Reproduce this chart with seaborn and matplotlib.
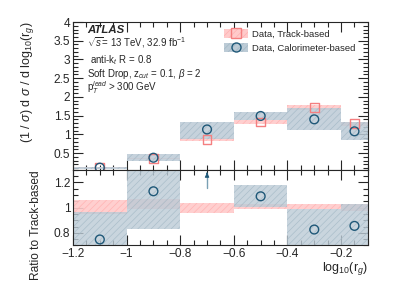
import numpy as np
import pandas as pd
import seaborn as sns
import matplotlib.pyplot as plt
from matplotlib.patches import Patch
from matplotlib.lines import Line2D
from matplotlib.ticker import MultipleLocator

# binning in log10(r_g)
edges = [-1.2, -1.0, -0.8, -0.6, -0.4, -0.2, -0.1]
centers = [-1.1, -0.9, -0.7, -0.5, -0.3, -0.15]

# normalised cross-section
track_val = [0.11, 0.35, 0.86, 1.33, 1.71, 1.28]
track_lo = [0.09, 0.33, 0.81, 1.28, 1.64, 1.22]
track_hi = [0.13, 0.37, 0.91, 1.38, 1.77, 1.33]
calo_val = [0.11, 0.375, 1.13, 1.49, 1.40, 1.08]
calo_lo = [0.08, 0.28, 0.88, 1.38, 1.11, 0.84]
calo_hi = [0.14, 0.48, 1.34, 1.59, 1.70, 1.32]

# ratio to track-based
ratio_track_lo = [0.95, 0.99, 0.955, 0.99, 0.99, 0.975]
ratio_track_hi = [1.06, 1.065, 1.04, 1.03, 1.03, 1.026]
ratio_calo_val = [0.747, 1.13, 1.45, 1.09, 0.826, 0.855]
ratio_calo_lo = [0.60, 0.83, 1.35, 1.005, 0.60, 0.60]
ratio_calo_hi = [0.965, 1.40, 1.60, 1.18, 0.987, 1.026]

sns.set_style("ticks")
plt.rcParams['font.family'] = ['Liberation Sans', 'DejaVu Sans']
plt.rcParams['mathtext.fontset'] = 'custom'
plt.rcParams['mathtext.rm'] = 'Liberation Sans'
plt.rcParams['mathtext.it'] = 'Liberation Sans:italic'
plt.rcParams['hatch.linewidth'] = 0.5

pink_face, pink_hatch, pink_mk = '#ffcaca', '#ffb0b0', '#f47f80'
blue_face, blue_hatch, blue_mk = '#bccbd6', '#a3b8c6', '#1f5878'

fig = plt.figure(figsize=(3.99, 2.86), dpi=100)
ax = fig.add_axes([0.183, 0.406, 0.739, 0.517])
rx = fig.add_axes([0.183, 0.142, 0.739, 0.264], sharex=ax)

widths = np.diff(edges)
left = np.array(edges[:-1])


def bands(a, lo, hi, face, hatch_col, alpha):
    lo = np.array(lo)
    hi = np.array(hi)
    a.bar(left, hi - lo, bottom=lo, width=widths, align='edge', color=face,
          edgecolor=hatch_col, hatch='/////', linewidth=0, alpha=alpha, zorder=1)


df = pd.DataFrame({'x': centers, 'track': track_val, 'calo': calo_val,
                   'ratio': ratio_calo_val})

bands(ax, track_lo, track_hi, pink_face, pink_hatch, 0.9)
bands(ax, calo_lo, calo_hi, blue_face, blue_hatch, 0.85)
sns.scatterplot(data=df, x='x', y='track', ax=ax, marker='s', s=40,
                facecolor='none', edgecolor=pink_mk, linewidth=1.0, zorder=3)
sns.scatterplot(data=df, x='x', y='calo', ax=ax, marker='o', s=40,
                facecolor='none', edgecolor=blue_mk, linewidth=1.0, zorder=4)

bands(rx, ratio_track_lo, ratio_track_hi, pink_face, pink_hatch, 0.9)
bands(rx, ratio_calo_lo, ratio_calo_hi, blue_face, blue_hatch, 0.8)
inrange = df[df['ratio'] < 1.3]
sns.scatterplot(data=inrange, x='x', y='ratio', ax=rx, marker='o', s=40,
                facecolor='none', edgecolor=blue_mk, linewidth=1.0, zorder=4)
# off-scale point
rx.plot([-0.7, -0.7], [1.16, 1.27], color='#7aa0b4', lw=1.0, zorder=4)
rx.annotate('', xy=(-0.7, 1.30), xytext=(-0.7, 1.25),
            arrowprops=dict(arrowstyle='-|>', color=blue_mk, lw=0.8,
                            mutation_scale=6, fc=blue_mk, ec=blue_mk),
            zorder=5)

ax.set_xlim(-1.2, -0.1)
ax.set_ylim(0.05, 4)
rx.set_ylim(0.7, 1.3)

for a in (ax, rx):
    a.tick_params(which='both', direction='in', top=True, right=True,
                  labelsize=8.6, width=0.8, pad=2)
    a.tick_params(which='major', length=7)
    a.tick_params(which='minor', length=3.5)
    a.xaxis.set_major_locator(MultipleLocator(0.2))
    a.xaxis.set_minor_locator(MultipleLocator(0.05))
    for sp in a.spines.values():
        sp.set_linewidth(0.8)
ax.yaxis.set_major_locator(MultipleLocator(0.5))
ax.yaxis.set_minor_locator(MultipleLocator(0.1))
ax.set_yticks([0.5, 1, 1.5, 2, 2.5, 3, 3.5, 4])
ax.set_yticklabels(['0.5', '1', '1.5', '2', '2.5', '3', '3.5', '4'])
rx.yaxis.set_major_locator(MultipleLocator(0.2))
rx.yaxis.set_minor_locator(MultipleLocator(0.05))
rx.set_yticks([0.8, 1.0, 1.2])
rx.set_yticklabels(['0.8', '1', '1.2'])
rx.set_xticks([-1.2, -1.0, -0.8, -0.6, -0.4, -0.2])
rx.set_xticklabels(['\u22121.2', '\u22121', '\u22120.8', '\u22120.6', '\u22120.4', '\u22120.2'])
plt.setp(ax.get_xticklabels(), visible=False)
ax.set_xlabel('')

ax.set_ylabel(r'(1 / $\sigma$) d $\sigma$ / d log$_{10}$(r$_{g}$)', fontsize=9, loc='top')
ax.yaxis.set_label_coords(-0.125, 1)
rx.set_ylabel('Ratio to Track-based', fontsize=8.6, loc='top')
rx.yaxis.set_label_coords(-0.105, 1)
rx.set_xlabel(r'log$_{10}$(r$_{g}$)', fontsize=9, loc='right')
rx.xaxis.set_label_coords(1, -0.2)

tr = ax.transAxes
ax.text(0.047, 0.946, 'ATLAS', transform=tr, fontsize=8.2, fontweight='bold',
        fontstyle='italic', va='center')
ax.text(0.047, 0.858, r'$\sqrt{s}$= 13 TeV, 32.9 fb$^{-1}$', transform=tr,
        fontsize=7, va='center')
ax.text(0.058, 0.745, r'anti-k$_{t}$ R = 0.8', transform=tr, fontsize=7, va='center')
ax.text(0.047, 0.65, r'Soft Drop, z$_{cut}$ = 0.1, $\beta$ = 2', transform=tr,
        fontsize=7, va='center')
ax.text(0.047, 0.556, r'p$_{T}^{lead}$ > 300 GeV', transform=tr, fontsize=7, va='center')

h_track = (Patch(facecolor=pink_face, edgecolor=pink_hatch, hatch='/////', linewidth=0),
           Line2D([], [], marker='s', ls='none', mfc='none', mec=pink_mk, ms=6.5, mew=1.0))
h_calo = (Patch(facecolor=blue_face, edgecolor=blue_hatch, hatch='/////', linewidth=0),
          Line2D([], [], marker='o', ls='none', mfc='none', mec=blue_mk, ms=6.5, mew=1.0))
ax.legend([h_track, h_calo], ['Data, Track-based', 'Data, Calorimeter-based'],
          loc='upper left', bbox_to_anchor=(0.5, 0.98), frameon=False,
          fontsize=6.8, handlelength=2.5, handleheight=1.1, handletextpad=0.4,
          labelspacing=0.45, borderaxespad=0)

fig.savefig('out.png', dpi=100)
